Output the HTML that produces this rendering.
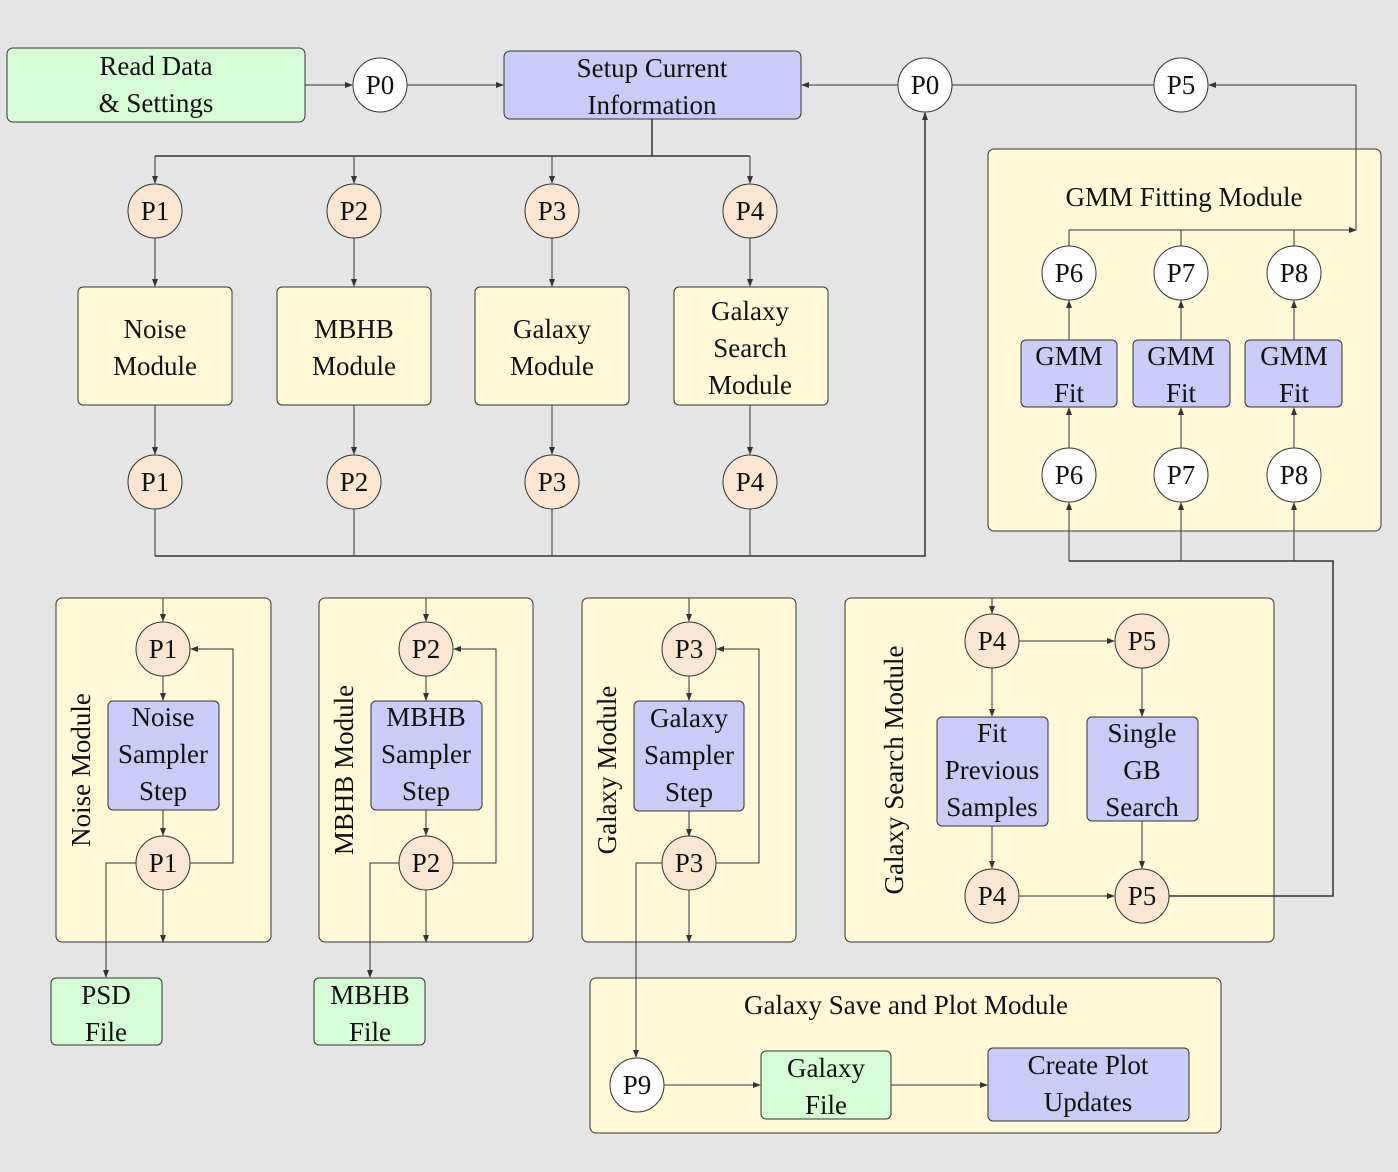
<!DOCTYPE html>
<html><head><meta charset="utf-8"><style>
html,body{margin:0;padding:0;background:#e5e5e5;}
svg{display:block;}
text{font-family:"Liberation Serif",serif;font-size:27px;fill:#111;text-anchor:middle;}
.g{fill:#d6fcd6;stroke:#333;stroke-width:1;}
.b{fill:#cbcbf8;stroke:#333;stroke-width:1;}
.y{fill:#fff9d7;stroke:#333;stroke-width:1;}
.o{fill:#fbe6d2;stroke:#333;stroke-width:1;}
.w{fill:#fff;stroke:#333;stroke-width:1;}
.l{fill:none;stroke:#333;stroke-width:1;}
.la{fill:none;stroke:#333;stroke-width:1;marker-end:url(#a);}
</style></head><body>
<svg width="1398" height="1172" viewBox="0 0 1398 1172" xmlns="http://www.w3.org/2000/svg">
<defs><marker id="a" markerWidth="8" markerHeight="6" refX="7" refY="3" orient="auto" markerUnits="userSpaceOnUse"><path d="M0,0 L8,3 L0,6 Z" fill="#333"/></marker></defs>
<rect width="1398" height="1172" fill="#e5e5e5"/>

<!-- big containers -->
<rect class="y" x="988" y="149" width="393" height="382" rx="6"/>
<rect class="y" x="56" y="598" width="215" height="344" rx="6"/>
<rect class="y" x="319" y="598" width="214" height="344" rx="6"/>
<rect class="y" x="582" y="598" width="214" height="344" rx="6"/>
<rect class="y" x="845" y="598" width="429" height="344" rx="6"/>
<rect class="y" x="590" y="978" width="631" height="155" rx="6"/>

<!-- top row -->
<rect class="g" x="7" y="48" width="298" height="74" rx="6"/>
<text x="156" y="75">Read Data</text><text x="156" y="112">&amp; Settings</text>
<path class="la" d="M305,85 H352"/>
<circle class="w" cx="380" cy="85" r="27"/><text x="380" y="94">P0</text>
<path class="la" d="M407,85 H503"/>
<rect class="b" x="504" y="51" width="297" height="68" rx="6"/>
<text x="652" y="77">Setup Current</text><text x="652" y="114">Information</text>
<path class="la" d="M898,85 H802"/>
<circle class="w" cx="925" cy="85" r="27"/><text x="925" y="94">P0</text>
<path class="l" d="M1154,85 H952"/>
<circle class="w" cx="1181" cy="85" r="27"/><text x="1181" y="94">P5</text>
<path class="la" d="M1356,230 V85 H1209"/>

<!-- fan out -->
<path class="l" d="M652,119 V156 M155,156 H750" style="stroke-width:1.5"/>
<path class="la" d="M155,156 V183"/><path class="la" d="M354,156 V183"/><path class="la" d="M552,156 V183"/><path class="la" d="M750,156 V183"/>
<circle class="o" cx="155" cy="211" r="27"/><text x="155" y="220">P1</text>
<circle class="o" cx="354" cy="211" r="27"/><text x="354" y="220">P2</text>
<circle class="o" cx="552" cy="211" r="27"/><text x="552" y="220">P3</text>
<circle class="o" cx="750" cy="211" r="27"/><text x="750" y="220">P4</text>
<path class="la" d="M155,238 V286"/><path class="la" d="M354,238 V286"/><path class="la" d="M552,238 V286"/><path class="la" d="M750,238 V286"/>
<rect class="y" x="78" y="287" width="154" height="118" rx="5"/>
<rect class="y" x="277" y="287" width="154" height="118" rx="5"/>
<rect class="y" x="475" y="287" width="154" height="118" rx="5"/>
<rect class="y" x="674" y="287" width="154" height="118" rx="5"/>
<text x="155" y="338">Noise</text><text x="155" y="375">Module</text>
<text x="354" y="338">MBHB</text><text x="354" y="375">Module</text>
<text x="552" y="338">Galaxy</text><text x="552" y="375">Module</text>
<text x="750" y="320">Galaxy</text><text x="750" y="357">Search</text><text x="750" y="394">Module</text>
<path class="la" d="M155,405 V454"/><path class="la" d="M354,405 V454"/><path class="la" d="M552,405 V454"/><path class="la" d="M750,405 V454"/>
<circle class="o" cx="155" cy="482" r="27"/><text x="155" y="491">P1</text>
<circle class="o" cx="354" cy="482" r="27"/><text x="354" y="491">P2</text>
<circle class="o" cx="552" cy="482" r="27"/><text x="552" y="491">P3</text>
<circle class="o" cx="750" cy="482" r="27"/><text x="750" y="491">P4</text>
<path class="l" d="M155,509 V556 M354,509 V556 M552,509 V556 M750,509 V556"/>
<path class="la" d="M155,556 H925 V113" style="stroke-width:1.5"/>

<!-- GMM -->
<text x="1184" y="206">GMM Fitting Module</text>
<path class="la" d="M1069,246 V230 H1356"/>
<path class="l" d="M1181,246 V230 M1294,246 V230"/>
<circle class="w" cx="1069" cy="273" r="27"/><text x="1069" y="282">P6</text>
<circle class="w" cx="1181" cy="273" r="27"/><text x="1181" y="282">P7</text>
<circle class="w" cx="1294" cy="273" r="27"/><text x="1294" y="282">P8</text>
<path class="la" d="M1069,340 V301"/><path class="la" d="M1181,340 V301"/><path class="la" d="M1294,340 V301"/>
<rect class="b" x="1021" y="340" width="96" height="67" rx="5"/>
<rect class="b" x="1133" y="340" width="97" height="67" rx="5"/>
<rect class="b" x="1245" y="340" width="97" height="67" rx="5"/>
<text x="1069" y="365">GMM</text><text x="1069" y="402">Fit</text>
<text x="1181" y="365">GMM</text><text x="1181" y="402">Fit</text>
<text x="1294" y="365">GMM</text><text x="1294" y="402">Fit</text>
<path class="la" d="M1069,448 V408"/><path class="la" d="M1181,448 V408"/><path class="la" d="M1294,448 V408"/>
<circle class="w" cx="1069" cy="475" r="27"/><text x="1069" y="484">P6</text>
<circle class="w" cx="1181" cy="475" r="27"/><text x="1181" y="484">P7</text>
<circle class="w" cx="1294" cy="475" r="27"/><text x="1294" y="484">P8</text>
<path class="la" d="M1069,561 V503"/><path class="la" d="M1181,561 V503"/><path class="la" d="M1294,561 V503"/>
<path class="l" d="M1069,561 H1333 V896 H1169" style="stroke-width:1.5"/>

<!-- Noise module -->
<text transform="translate(90,770) rotate(-90)">Noise Module</text>
<path class="la" d="M163,598 V621"/>
<circle class="o" cx="163" cy="649" r="27"/><text x="163" y="658">P1</text>
<path class="la" d="M163,676 V700"/>
<rect class="b" x="108" y="701" width="111" height="109" rx="5"/>
<text x="163" y="726">Noise</text><text x="163" y="763">Sampler</text><text x="163" y="800">Step</text>
<path class="la" d="M163,810 V835"/>
<circle class="o" cx="163" cy="863" r="27"/><text x="163" y="872">P1</text>
<path class="la" d="M190,863 H233 V649 H191"/>
<path class="la" d="M163,890 V942"/>
<path class="la" d="M136,863 H106 V977"/>
<rect class="g" x="51" y="978" width="111" height="67" rx="5"/>
<text x="106" y="1004">PSD</text><text x="106" y="1041">File</text>

<!-- MBHB module -->
<text transform="translate(353,770) rotate(-90)">MBHB Module</text>
<path class="la" d="M426,598 V621"/>
<circle class="o" cx="426" cy="649" r="27"/><text x="426" y="658">P2</text>
<path class="la" d="M426,676 V700"/>
<rect class="b" x="371" y="701" width="111" height="109" rx="5"/>
<text x="426" y="726">MBHB</text><text x="426" y="763">Sampler</text><text x="426" y="800">Step</text>
<path class="la" d="M426,810 V835"/>
<circle class="o" cx="426" cy="863" r="27"/><text x="426" y="872">P2</text>
<path class="la" d="M453,863 H496 V649 H454"/>
<path class="la" d="M426,890 V942"/>
<path class="la" d="M399,863 H370 V977"/>
<rect class="g" x="314" y="978" width="111" height="67" rx="5"/>
<text x="370" y="1004">MBHB</text><text x="370" y="1041">File</text>

<!-- Galaxy module -->
<text transform="translate(616,770) rotate(-90)">Galaxy Module</text>
<path class="la" d="M689,598 V621"/>
<circle class="o" cx="689" cy="649" r="27"/><text x="689" y="658">P3</text>
<path class="la" d="M689,676 V700"/>
<rect class="b" x="634" y="701" width="110" height="110" rx="5"/>
<text x="689" y="727">Galaxy</text><text x="689" y="764">Sampler</text><text x="689" y="801">Step</text>
<path class="la" d="M689,811 V836"/>
<circle class="o" cx="689" cy="863" r="27"/><text x="689" y="872">P3</text>
<path class="la" d="M716,863 H759 V649 H717"/>
<path class="la" d="M689,890 V942"/>
<path class="la" d="M662,863 H636 V1057"/>

<!-- Galaxy search module -->
<text transform="translate(903,770) rotate(-90)">Galaxy Search Module</text>
<path class="la" d="M1060,598 H992 V613"/>
<circle class="o" cx="992" cy="641" r="27"/><text x="992" y="650">P4</text>
<path class="la" d="M1019,641 H1114"/>
<circle class="o" cx="1142" cy="641" r="27"/><text x="1142" y="650">P5</text>
<path class="la" d="M992,668 V716"/><path class="la" d="M1142,668 V716"/>
<rect class="b" x="937" y="717" width="111" height="109" rx="5"/>
<text x="992" y="742">Fit</text><text x="992" y="779">Previous</text><text x="992" y="816">Samples</text>
<rect class="b" x="1087" y="717" width="111" height="104" rx="5"/>
<text x="1142" y="742">Single</text><text x="1142" y="779">GB</text><text x="1142" y="816">Search</text>
<path class="la" d="M992,826 V868"/><path class="la" d="M1142,821 V868"/>
<circle class="o" cx="992" cy="896" r="27"/><text x="992" y="905">P4</text>
<path class="la" d="M1019,896 H1114"/>
<circle class="o" cx="1142" cy="896" r="27"/><text x="1142" y="905">P5</text>

<!-- save and plot -->
<text x="906" y="1014">Galaxy Save and Plot Module</text>
<circle class="w" cx="637" cy="1085" r="27"/><text x="637" y="1094">P9</text>
<path class="la" d="M664,1085 H760"/>
<rect class="g" x="761" y="1051" width="130" height="68" rx="5"/>
<text x="826" y="1077">Galaxy</text><text x="826" y="1114">File</text>
<path class="la" d="M891,1085 H987"/>
<rect class="b" x="988" y="1048" width="201" height="73" rx="5"/>
<text x="1088" y="1074">Create Plot</text><text x="1088" y="1111">Updates</text>
</svg>
</body></html>
